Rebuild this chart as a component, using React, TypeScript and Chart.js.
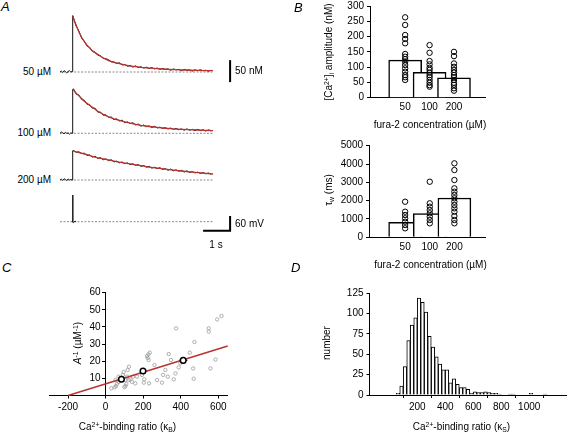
import React, { useEffect, useRef } from "react";
import { Chart, registerables } from "chart.js";
Chart.register(...registerables);

const FONT = "'Liberation Sans', Arial, Helvetica, sans-serif";
Chart.defaults.font.family = FONT;
Chart.defaults.font.size = 10;
Chart.defaults.color = "#000";

// ---------------- Panel A data (time in s, [Ca2+] in nM, Vm in mV) ----------------
const sampleTimes = [
  0, 0.05, 0.1, 0.15, 0.2, 0.25, 0.3, 0.35, 0.4, 0.45, 0.47,
  0.5, 0.6, 0.7, 0.8, 0.9, 1.0, 1.1, 1.2, 1.3, 1.4, 1.5, 1.6, 1.7, 1.8, 1.9, 2.0,
  2.1, 2.2, 2.3, 2.4, 2.5, 2.6, 2.7, 2.8, 2.9, 3.0, 3.1, 3.2, 3.3, 3.4, 3.5, 3.6,
  3.7, 3.8, 3.9, 4.0, 4.1, 4.2, 4.3, 4.4, 4.5, 4.6, 4.7, 4.8, 4.9, 5.0, 5.1, 5.2,
  5.3, 5.4, 5.5, 5.6,
];
const trace50 = [
  0, 2, -1, 3, 1, -2, 1, 3, 0, 1, 128,
  123, 104, 93, 77, 70, 59, 56, 47, 45, 38, 37, 31, 30, 28, 23, 23,
  19, 21, 16, 17, 13, 15, 11, 14, 10, 12, 9, 11, 8, 10, 7, 9,
  6, 8, 6, 7, 4, 7, 5, 6, 3, 6, 4, 5, 2, 5, 3, 5,
  3, 4, 2, 4,
];
const trace100 = [
  0, 3, 1, -1, 2, 0, 1, -2, 1, 0, 100,
  101, 89, 87, 77, 75, 66, 65, 57, 57, 48, 48, 41, 42, 36, 37, 31,
  33, 28, 30, 24, 26, 22, 24, 19, 21, 16, 19, 15, 17, 13, 16, 12,
  14, 11, 13, 10, 12, 9, 11, 8, 10, 7, 10, 7, 9, 6, 9, 6,
  8, 5, 8, 5,
];
const trace200 = [
  0, 2, -1, 3, 1, -1, 2, 0, 1, 0, 66.5,
  67, 63, 64, 60, 61, 56, 57, 52, 54, 49, 51, 46, 48, 44, 46, 41,
  43, 39, 41, 37, 39, 35, 37, 33, 35, 31, 33, 29, 31, 27, 29, 26,
  28, 24, 26, 22, 25, 21, 23, 20, 22, 18, 21, 17, 19, 16, 18, 15,
  17, 14, 16, 13,
];
const fitTimes = [0.47, 0.5, 0.6, 0.7, 0.8, 0.9, 1.0, 1.2, 1.4, 1.6, 1.8, 2.0, 2.2, 2.4, 2.6, 2.8, 3.0, 3.3, 3.6, 3.9, 4.2, 4.5, 4.8, 5.1, 5.4, 5.67];
const fit50 = [128, 121, 106, 91, 79, 69, 61, 48, 40, 32, 26, 22, 19, 16, 13.5, 12, 10.5, 9, 7.5, 6.3, 5.5, 4.7, 4, 3.6, 3.2, 3];
const fit100 = [100, 99, 91, 85, 79, 73, 68, 59, 50, 43, 37.5, 33, 29.5, 26, 23, 20.5, 18, 15.5, 13.5, 11.5, 10, 9, 8.3, 7.5, 6.8, 6];
const fit200 = [66.5, 65.5, 64, 62.5, 61, 59, 57.5, 53.5, 50.5, 48, 45.5, 43, 40.5, 38.5, 36.5, 34.5, 32.5, 29.5, 27, 24.5, 22.5, 20.5, 18.5, 16.8, 15, 13.6];
const vmTimes = [0.44, 0.46, 0.47, 0.48, 0.5, 0.55, 0.6];
const vmValues = [-70, -70, 39, -72, -74, -68, -70];
const restVm = -70;
const traceEnd = 5.67;
// scale bars (data units)
const barNMTime = [6.3, 6.3];
const barNMValue = [-23, 27];
const barVTime = [5.3, 6.3, 6.3];
const barVValue = [-106.7, -106.7, -46.7];

// ---------------- Panel B data ----------------
const furaLabels = ["50", "100", "200"];
const ampMeans = [123, 83, 65];
const amp50 = [263, 238, 205, 192, 178, 143, 134, 126, 118, 107, 96, 85, 74, 67, 58];
const amp100 = [172, 147, 120, 109, 98, 91, 82, 74, 67, 58, 49, 41, 36];
const amp200 = [150, 136, 112, 101, 91, 82, 74, 67, 58, 49, 42, 31, 23];
const tauMeans = [820, 1290, 2145];
const tau50 = [1942, 1397, 1217, 1037, 851, 671, 491];
const tau100 = [3033, 1855, 1670, 1490, 1309, 1124, 944, 764];
const tau200 = [4037, 3672, 3126, 2673, 2488, 2308, 2128, 1942, 1762, 1582, 1397, 1162, 944, 764];

// ---------------- Panel C data ----------------
const cCellX = [30, 48, 55, 60, 69, 78, 87, 92, 96, 100, 105, 110, 117, 124, 132, 140, 158, 203, 220, 229, 235, 231, 206, 260, 274, 300, 306, 318, 331, 336, 348, 363, 372, 375, 389, 398, 448, 466, 473, 469, 549, 549, 558, 585, 594, 617, 167, 194, 52, 69, 105, 114, 123, 146, 224, 228];
const cCellY = [4.2, 4.8, 5.5, 6.7, 7.9, 9, 10.4, 12, 13.7, 4.8, 5.5, 6.7, 14.9, 16.8, 9.4, 8, 7.1, 7.5, 23, 20.7, 25, 7.1, 9.4, 17.8, 9, 7.5, 12, 14.9, 11, 24.2, 20.7, 9.4, 12.9, 39.2, 16.4, 18.8, 25, 15.8, 31.2, 9.8, 39.2, 37.3, 15.8, 21, 44.4, 46.4, 11, 12, 9, 11, 9, 11, 9, 11, 22, 24];
const cMeanX = [84, 199, 413];
const cMeanY = [9.5, 14.3, 20.5];
const cMeanErrX = [6, 10, 22];
const cMeanErrY = [0.8, 1.0, 1.8];
const cFitX = [-200, 650];
const cFitY = [0, 28.9];
const cXTicks = [-200, 0, 200, 400, 600];
const cYTicks = [10, 20, 30, 40, 50, 60];

// ---------------- Panel D data ----------------
const dBinCenters = [62.5, 87.5, 112.5, 137.5, 162.5, 187.5, 212.5, 237.5, 262.5, 287.5, 312.5, 337.5, 362.5, 387.5, 412.5, 437.5, 462.5, 487.5, 512.5, 537.5, 562.5, 587.5, 612.5, 637.5, 662.5, 687.5, 712.5, 737.5, 762.5, 787.5, 862.5, 887.5, 1012.5, 1112.5];
const dCounts = [2, 11, 35, 67, 86, 95, 119, 114, 102, 72, 59, 47, 38, 31, 31, 15, 20, 13, 9, 9, 7, 2, 4, 3, 3, 4, 3, 2, 2, 1, 1, 1, 2, 1];
const dXTicks = [200, 400, 600, 800, 1000];
const dYTicks = [0, 25, 50, 75, 100, 125];

// ---------------- helpers ----------------
const xy = (xs: number[], ys: number[]) => xs.map((x, i) => ({ x, y: ys[i] }));
const RED = "#b8342f";
const plain = (v: number) => String(v);

function axis(extra: any = {}, tickExtra: any = {}) {
  return {
    border: { display: true, color: "#000", width: 1 },
    grid: { drawOnChartArea: false, drawTicks: true, tickLength: 3, tickColor: "#000", lineWidth: 1 },
    ...extra,
    ticks: { color: "#000", font: { family: FONT, size: 10 }, padding: 3, maxRotation: 0, autoSkip: false, callback: plain, ...tickExtra },
  };
}
const fixedTicks = (vals: number[]) => (scale: any) => {
  scale.ticks = vals.map((v) => ({ value: v }));
};

function ChartCanvas({ left, top, width, height, build }: { left: number; top: number; width: number; height: number; build: () => any }) {
  const ref = useRef<HTMLCanvasElement>(null);
  useEffect(() => {
    const chart = new Chart(ref.current as HTMLCanvasElement, build());
    return () => chart.destroy();
  }, []);
  return (
    <canvas
      ref={ref}
      width={width}
      height={height}
      style={{ position: "absolute", left, top, width, height }}
    />
  );
}

function Txt({ x, y, align = "left", rotate = false, size = 10, italic = false, children }: any) {
  const tx = align === "center" ? "-50%" : align === "right" ? "-100%" : "0";
  return (
    <div
      style={{
        position: "absolute",
        left: x,
        top: y,
        transform: `translate(${rotate ? "-50%" : tx},-50%)${rotate ? " rotate(-90deg)" : ""}`,
        whiteSpace: "nowrap",
        fontSize: size,
        fontStyle: italic ? "italic" : "normal",
        lineHeight: 1,
        fontFamily: FONT,
        color: "#000",
      }}
    >
      {children}
    </div>
  );
}
const Sup = ({ children }: any) => <sup style={{ fontSize: "0.68em", lineHeight: 0, verticalAlign: "0.45em" }}>{children}</sup>;
const Sub = ({ children }: any) => <sub style={{ fontSize: "0.68em", lineHeight: 0, verticalAlign: "-0.25em" }}>{children}</sub>;

const baseOptions = {
  responsive: false,
  animation: false,
  devicePixelRatio: 1,
  events: [],
  plugins: { legend: { display: false }, tooltip: { enabled: false } },
};

// ---------------- Panel A ----------------
const A_BOX = { left: 54, top: 0, width: 216, height: 240 };
const A_T0_PX = 60;
const A_PX_PER_S = 27;
function traceRange(baselinePx: number, pxPerUnit: number, baseValue: number) {
  const max = baseValue + (baselinePx - A_BOX.top) / pxPerUnit;
  return { min: max - A_BOX.height / pxPerUnit, max };
}

function buildA() {
  const line = (data: any[], yAxisID: string, color: string, width: number, order: number, dash: number[] = []) => ({
    type: "line",
    data,
    yAxisID,
    borderColor: color,
    borderWidth: width,
    borderDash: dash,
    pointRadius: 0,
    tension: 0,
    fill: false,
    clip: false,
    order,
  });
  const r1 = traceRange(72, 0.44, 0);
  const r2 = traceRange(133.3, 0.44, 0);
  const r3 = traceRange(180, 0.44, 0);
  const rv = traceRange(221.7, 0.245, restVm);
  const hid = (r: any) => ({ type: "linear", display: false, min: r.min, max: r.max });
  return {
    type: "line",
    data: {
      datasets: [
        line(xy([0, traceEnd], [0, 0]), "y1", "#8a8a8a", 1, 3, [2, 1.5]),
        line(xy([0, traceEnd], [0, 0]), "y2", "#8a8a8a", 1, 3, [2, 1.5]),
        line(xy([0, traceEnd], [0, 0]), "y3", "#8a8a8a", 1, 3, [2, 1.5]),
        line(xy([0, traceEnd], [restVm, restVm]), "yv", "#8a8a8a", 1, 3, [2, 1.5]),
        line(xy(sampleTimes, trace50), "y1", "#111", 1, 2),
        line(xy(sampleTimes, trace100), "y2", "#111", 1, 2),
        line(xy(sampleTimes, trace200), "y3", "#111", 1, 2),
        line(xy(vmTimes, vmValues), "yv", "#111", 1, 2),
        line(xy(fitTimes, fit50), "y1", RED, 1.3, 1),
        line(xy(fitTimes, fit100), "y2", RED, 1.3, 1),
        line(xy(fitTimes, fit200), "y3", RED, 1.3, 1),
        line(xy(barNMTime, barNMValue), "y1", "#000", 2, 0),
        line(xy(barVTime, barVValue), "yv", "#000", 2, 0),
      ],
    },
    options: {
      ...baseOptions,
      layout: { padding: 0 },
      scales: {
        x: {
          type: "linear",
          display: false,
          min: (A_BOX.left - A_T0_PX) / A_PX_PER_S,
          max: (A_BOX.left + A_BOX.width - A_T0_PX) / A_PX_PER_S,
        },
        y1: hid(r1),
        y2: hid(r2),
        y3: hid(r3),
        yv: hid(rv),
      },
    },
  };
}

// ---------------- Panel B ----------------
function buildB(means: number[], groups: number[][], yMax: number, yStep: number, yAxisWidth: number, xAxisHeight: number, padTop: number, xMin: number) {
  const pts: any[] = [];
  groups.forEach((g, i) => g.forEach((v) => pts.push({ x: i + 1, y: v })));
  const yTicks: number[] = [];
  for (let v = 0; v <= yMax; v += yStep) yTicks.push(v);
  return {
    type: "bar",
    data: {
      datasets: [
        {
          type: "scatter",
          data: pts,
          pointRadius: 2.7,
          pointBorderWidth: 1,
          pointBorderColor: "#000",
          pointBackgroundColor: "rgba(255,255,255,0)",
          order: 0,
        },
        {
          type: "bar",
          data: means.map((m, i) => ({ x: i + 1, y: m })),
          backgroundColor: "#fff",
          borderColor: "#000",
          borderWidth: 1.5,
          barThickness: 33,
          order: 1,
        },
      ],
    },
    options: {
      ...baseOptions,
      layout: { padding: { left: 0, right: 5, top: padTop, bottom: 0 } },
      scales: {
        x: axis(
          {
            type: "linear",
            min: xMin,
            max: xMin + 3.14,
            afterBuildTicks: fixedTicks([1, 2, 3]),
            afterFit: (s: any) => { s.height = xAxisHeight; },
            grid: { drawOnChartArea: false, drawTicks: false },
          },
          { padding: 4, callback: (v: number) => furaLabels[v - 1] }
        ),
        y: axis({
          type: "linear",
          min: 0,
          max: yMax,
          afterBuildTicks: fixedTicks(yTicks),
          afterFit: (s: any) => { s.width = yAxisWidth; },
        }),
      },
    },
  };
}

// ---------------- Panel C ----------------
const errorBars = {
  id: "errorBars",
  beforeDatasetsDraw(chart: any) {
    const ctx = chart.ctx;
    const xs = chart.scales.x;
    const ys = chart.scales.y;
    ctx.save();
    ctx.strokeStyle = "#000";
    ctx.lineWidth = 1.2;
    cMeanX.forEach((mx, i) => {
      const px = xs.getPixelForValue(mx);
      const py = ys.getPixelForValue(cMeanY[i]);
      ctx.beginPath();
      ctx.moveTo(xs.getPixelForValue(mx - cMeanErrX[i]), py);
      ctx.lineTo(xs.getPixelForValue(mx + cMeanErrX[i]), py);
      ctx.moveTo(px, ys.getPixelForValue(cMeanY[i] - cMeanErrY[i]));
      ctx.lineTo(px, ys.getPixelForValue(cMeanY[i] + cMeanErrY[i]));
      ctx.stroke();
    });
    ctx.restore();
  },
};

function buildC() {
  return {
    type: "scatter",
    data: {
      datasets: [
        {
          type: "scatter",
          data: xy(cMeanX, cMeanY),
          pointRadius: 2.8,
          pointBorderWidth: 1.5,
          pointBorderColor: "#000",
          pointBackgroundColor: "#fff",
          order: 0,
        },
        {
          type: "line",
          data: xy(cFitX, cFitY),
          borderColor: RED,
          borderWidth: 1.5,
          pointRadius: 0,
          fill: false,
          clip: false,
          order: 1,
        },
        {
          type: "scatter",
          data: xy(cCellX, cCellY),
          pointRadius: 1.7,
          pointBorderWidth: 0.8,
          pointBorderColor: "#9c9c9c",
          pointBackgroundColor: "rgba(255,255,255,0)",
          order: 2,
        },
      ],
    },
    plugins: [errorBars],
    options: {
      ...baseOptions,
      layout: { padding: { left: 19.3, right: 7.3, top: 10.7, bottom: 0 } },
      scales: {
        x: axis({
          type: "linear",
          min: -300,
          max: 650,
          afterBuildTicks: fixedTicks(cXTicks),
          afterFit: (s: any) => { s.height = 26.5; },
        }),
        y: axis(
          {
            type: "linear",
            min: 0,
            max: 60,
            position: { x: 0 },
            afterBuildTicks: fixedTicks(cYTicks),
          },
          // axis placed at x = 0: labels are right-aligned on the axis line, so an en space keeps a gap
          { callback: (v: number) => String(v) + "\u2002" }
        ),
      },
    },
  };
}

// ---------------- Panel D ----------------
function buildD() {
  return {
    type: "bar",
    data: {
      datasets: [
        {
          data: xy(dBinCenters, dCounts),
          backgroundColor: "#fff",
          borderColor: "#000",
          borderWidth: 1,
          barPercentage: 1,
          categoryPercentage: 1,
        },
      ],
    },
    options: {
      ...baseOptions,
      layout: { padding: { left: 0, right: 0, top: 11.3, bottom: 0 } },
      scales: {
        x: axis({
          type: "linear",
          min: 0,
          max: 1128.6,
          afterBuildTicks: fixedTicks(dXTicks),
          afterFit: (s: any) => { s.height = 27; },
        }),
        y: axis({
          type: "linear",
          min: 0,
          max: 125,
          afterBuildTicks: fixedTicks(dYTicks),
          afterFit: (s: any) => { s.width = 69.5; },
        }),
      },
    },
  };
}

export default function App() {
  return (
    <div
      style={{
        position: "absolute",
        left: 0,
        top: 0,
        width: 567,
        height: 434,
        overflow: "hidden",
        background: "#fff",
        fontFamily: FONT,
      }}
    >
      <ChartCanvas left={A_BOX.left} top={A_BOX.top} width={A_BOX.width} height={A_BOX.height} build={buildA} />
      <ChartCanvas left={300} top={-5} width={190} height={140} build={() => buildB(ampMeans, [amp50, amp100, amp200], 300, 50, 70, 37.3, 11, 0.345)} />
      <ChartCanvas left={300} top={135} width={190} height={135} build={() => buildB(tauMeans, [tau50, tau100, tau200], 5000, 1000, 69, 32.7, 10.7, 0.318)} />
      <ChartCanvas left={30} top={282} width={205} height={140} build={buildC} />
      <ChartCanvas left={300} top={282} width={267} height={140} build={buildD} />

      {/* panel letters */}
      <Txt x={1} y={6} size={13} italic>A</Txt>
      <Txt x={294} y={6.5} size={13} italic>B</Txt>
      <Txt x={2} y={267} size={13} italic>C</Txt>
      <Txt x={291} y={267} size={13} italic>D</Txt>

      {/* panel A labels */}
      <Txt x={51} y={72} align="right">50 µM</Txt>
      <Txt x={51} y={133} align="right">100 µM</Txt>
      <Txt x={51} y={180} align="right">200 µM</Txt>
      <Txt x={235} y={71}>50 nM</Txt>
      <Txt x={235} y={224}>60 mV</Txt>
      <Txt x={216} y={245} align="center">1 s</Txt>

      {/* panel B titles */}
      <Txt x={328.5} y={52} rotate>
        [Ca<Sup>2+</Sup>]<Sub>i</Sub> amplitude (nM)
      </Txt>
      <Txt x={430} y={125} align="center">fura-2 concentration (µM)</Txt>
      <Txt x={329} y={190} rotate>
        τ<Sub>w</Sub> (ms)
      </Txt>
      <Txt x={430.5} y={265} align="center">fura-2 concentration (µM)</Txt>

      {/* panel C titles */}
      <Txt x={78.3} y={343} rotate>
        <i>A</i>
        <Sup>-1</Sup> (µM<Sup>-1</Sup>)
      </Txt>
      <Txt x={127.5} y={426.7} align="center">
        Ca<Sup>2+</Sup>-binding ratio (κ<Sub>B</Sub>)
      </Txt>

      {/* panel D titles */}
      <Txt x={326.7} y={343} rotate>number</Txt>
      <Txt x={461.5} y={426.7} align="center">
        Ca<Sup>2+</Sup>-binding ratio (κ<Sub>S</Sub>)
      </Txt>
    </div>
  );
}
